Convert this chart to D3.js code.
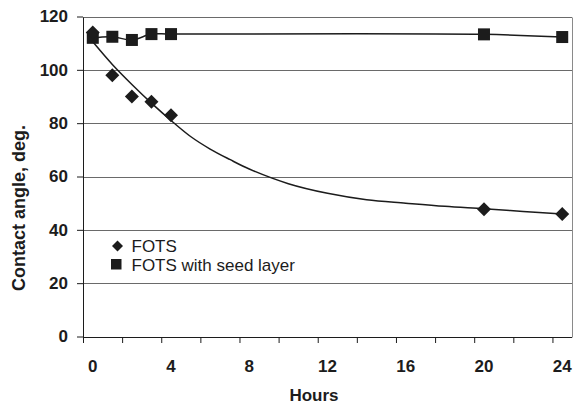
<!DOCTYPE html>
<html>
<head>
<meta charset="utf-8">
<script src="https://cdn.jsdelivr.net/npm/d3@7"></script>
<style>
  html, body { margin: 0; padding: 0; background: #fff; }
  svg { display: block; font-family: "Liberation Sans", Arial, sans-serif; }
</style>
</head>
<body>
<svg id="chart" width="573" height="405"></svg>
<script>
// ---- data ----
const fotsHours = [0, 1, 2, 3, 4, 20, 24];
const fotsAngles = [114, 98, 90, 88, 83, 47.7, 45.9];
const seedHours = [0, 1, 2, 3, 4, 20, 24];
const seedAngles = [112, 112.4, 111.2, 113.4, 113.4, 113.3, 112.3];
// fitted trend curve for FOTS
const fotsFitHours = [0, 1, 2, 3, 4, 5, 6, 7, 8, 10, 12, 14, 16, 18, 20, 22, 24];
const fotsFitAngles = [110.5, 102, 94.5, 87.5, 81, 75, 70.3, 66.4, 62.8, 57.3, 53.7, 51.3, 50, 48.8, 47.9, 46.9, 45.9];
const xTickLabels = [0, 4, 8, 12, 16, 20, 24];
const xTickMarks = [-0.5, 1.5, 3.5, 5.5, 7.5, 9.5, 11.5, 13.5, 15.5, 17.5, 19.5, 21.5, 23.5];
const yTicks = [0, 20, 40, 60, 80, 100, 120];
const seriesNames = ["FOTS", "FOTS with seed layer"];

(function () {
const svg = d3.select("#chart");
const pLeft = 83, pRight = 572, pTop = 16.5, pBottom = 336.5;

const x = d3.scaleLinear().domain([-0.5, 24.5]).range([pLeft, pRight]);
const y = d3.scaleLinear().domain([0, 120]).range([pBottom, pTop]);

const ink = "#1c1c1c";
const ry = v => Math.round(y(v)) + 0.5;

// gridlines
svg.append("g").selectAll("line").data(yTicks.filter(d => d > 0)).join("line")
  .attr("x1", pLeft).attr("x2", pRight)
  .attr("y1", d => ry(d)).attr("y2", d => ry(d))
  .attr("stroke", "#6a6a6a").attr("stroke-width", 1);

// right border
svg.append("line")
  .attr("x1", pRight + 0.5).attr("x2", pRight + 0.5)
  .attr("y1", ry(120)).attr("y2", ry(0))
  .attr("stroke", "#8a8a8a").attr("stroke-width", 1);

// y axis
const yAxis = d3.axisLeft(y).tickValues(yTicks).tickSize(6).tickPadding(9)
  .tickFormat(d3.format("d")).offset(0.5);
const gy = svg.append("g").attr("transform", `translate(${pLeft},0)`).call(yAxis);
gy.select(".domain").attr("stroke", ink).attr("d", `M0.5,${ry(120)}V${ry(0)}`);
gy.selectAll(".tick line").attr("stroke", ink);
gy.selectAll(".tick text").attr("fill", ink).attr("font-size", "17px").attr("font-weight", "bold")
  .attr("font-family", "'Liberation Sans', Arial, sans-serif");

// x axis (tick marks)
const xAxis = d3.axisBottom(x).tickValues(xTickMarks).tickSize(6).tickFormat("");
const gx = svg.append("g").attr("transform", `translate(0,${Math.round(y(0))})`).call(xAxis);
gx.select(".domain").attr("stroke", ink).attr("d", `M${pLeft},0.5H${pRight}`);
gx.selectAll(".tick line").attr("stroke", ink);

// x labels
svg.append("g").selectAll("text").data(xTickLabels).join("text")
  .attr("x", d => x(d)).attr("y", 372)
  .attr("text-anchor", "middle")
  .attr("font-size", "17px").attr("font-weight", "bold").attr("fill", ink)
  .text(d => d);

// axis titles
svg.append("text")
  .attr("transform", "translate(25,208) rotate(-90)")
  .attr("text-anchor", "middle")
  .attr("font-size", "18px").attr("font-weight", "bold").attr("fill", ink)
  .text("Contact angle, deg.");
svg.append("text")
  .attr("x", 314).attr("y", 401)
  .attr("text-anchor", "middle")
  .attr("font-size", "17px").attr("font-weight", "bold").attr("fill", ink)
  .text("Hours");

// lines
const fitLine = d3.line().x((d, i) => x(fotsFitHours[i])).y(d => y(d)).curve(d3.curveCatmullRom);
svg.append("path").datum(fotsFitAngles)
  .attr("d", fitLine).attr("fill", "none").attr("stroke", ink).attr("stroke-width", 1.5);

const seedLine = d3.line().x((d, i) => x(seedHours[i])).y(d => y(d)).curve(d3.curveCatmullRom);
svg.append("path").datum(seedAngles)
  .attr("d", seedLine).attr("fill", "none").attr("stroke", ink).attr("stroke-width", 1.5);

// markers
function diamondPath(cx, cy, r) {
  return `M${cx},${cy - r}L${cx + r},${cy}L${cx},${cy + r}L${cx - r},${cy}Z`;
}
svg.append("g").selectAll("rect").data(seedAngles).join("rect")
  .attr("x", (d, i) => x(seedHours[i]) - 6).attr("y", d => y(d) - 6)
  .attr("width", 12).attr("height", 12).attr("fill", ink);
svg.append("g").selectAll("path").data(fotsAngles).join("path")
  .attr("d", (d, i) => diamondPath(x(fotsHours[i]), y(d), 7)).attr("fill", ink);

// legend
const lg = svg.append("g");
lg.append("path").attr("d", diamondPath(117.5, 246, 5.5)).attr("fill", ink);
lg.append("rect").attr("x", 111).attr("y", 259).attr("width", 10.5).attr("height", 10.5).attr("fill", ink);
lg.append("text").attr("x", 131.5).attr("y", 252).attr("font-size", "17px").attr("fill", ink).text(seriesNames[0]);
lg.append("text").attr("x", 131.5).attr("y", 270.5).attr("font-size", "17px").attr("fill", ink).text(seriesNames[1]);
})();
</script>
</body>
</html>
